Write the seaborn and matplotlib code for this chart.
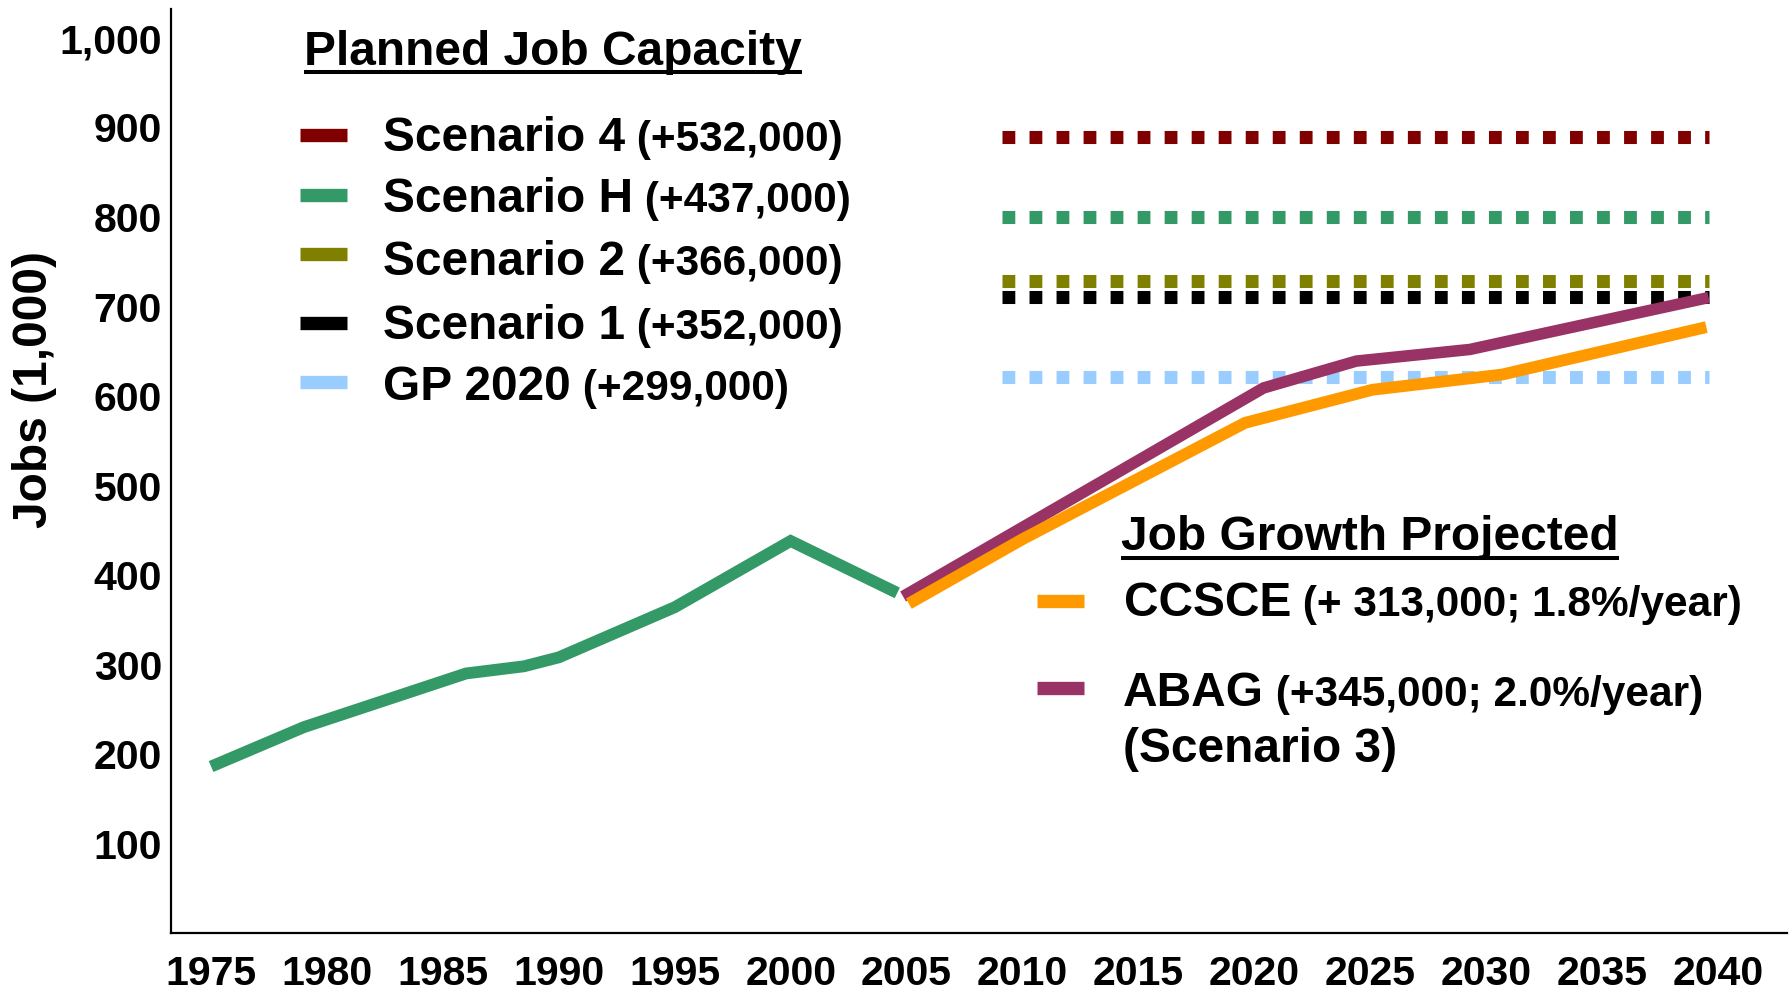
import numpy as np
import pandas as pd
import matplotlib
matplotlib.use("Agg")
import matplotlib.pyplot as plt
import seaborn as sns
from matplotlib.lines import Line2D

# ---------------- data ----------------
hist_years = [1975, 1979, 1986, 1988.5, 1990, 1995, 2000, 2004.6]
hist_jobs = [186, 230, 290, 298, 308, 364, 438, 380]

abag_years = [2004.85, 2020.4, 2024.4, 2029.3, 2039.6]
abag_jobs = [376, 609, 639, 652, 710]

ccsce_years = [2005.1, 2010, 2019.6, 2025.1, 2030.7, 2039.5]
ccsce_jobs = [368, 440, 570, 607, 624, 677]

scenario_names = ["Scenario 4", "Scenario H", "Scenario 2", "Scenario 1", "GP 2020"]
scenario_added = ["(+532,000)", "(+437,000)", "(+366,000)", "(+352,000)", "(+299,000)"]
scenario_capacity = [889, 800, 728, 711, 621]
scenario_colors = ["#800000", "#339966", "#808000", "#000000", "#99CCFF"]
capacity_span = [2009.1, 2039.6]

projection_names = ["CCSCE", "ABAG"]
projection_notes = ["(+ 313,000; 1.8%/year)", "(+345,000; 2.0%/year)"]
projection_colors = ["#FF9900", "#993366"]

year_ticks = [1975, 1980, 1985, 1990, 1995, 2000, 2005, 2010, 2015, 2020, 2025, 2030, 2035, 2040]
job_ticks = [100, 200, 300, 400, 500, 600, 700, 800, 900, 1000]
job_tick_labels = ["100", "200", "300", "400", "500", "600", "700", "800", "900", "1,000"]

# ---------------- style ----------------
sns.set_style("white")
plt.rcParams["font.family"] = ["Liberation Sans", "DejaVu Sans"]
plt.rcParams["font.weight"] = "bold"
plt.rcParams["text.color"] = "black"
plt.rcParams["axes.labelcolor"] = "black"
plt.rcParams["xtick.color"] = "black"
plt.rcParams["ytick.color"] = "black"

W, H = 1790, 996
DPI = 100
fig = plt.figure(figsize=(W / DPI, H / DPI), dpi=DPI)
ax = fig.add_axes([171 / W, (H - 933) / H, (1787 - 171) / W, (933 - 9) / H])

BIG = 34.5
SMALL = 30.5
TICK = 29.5

# capacity dotted lines
cap_df = pd.DataFrame({
    "scenario": np.repeat(scenario_names, 2),
    "year": capacity_span * len(scenario_names),
    "jobs": np.repeat(scenario_capacity, 2),
})
for name, col in zip(scenario_names, scenario_colors):
    sub = cap_df[cap_df["scenario"] == name]
    sns.lineplot(data=sub, x="year", y="jobs", ax=ax, color=col, lw=9.4,
                 linestyle=(0, (0.98, 1.09)), dash_capstyle="butt", legend=False)

# historical line
sns.lineplot(x=hist_years, y=hist_jobs, ax=ax, color="#339966", lw=8.5,
             solid_capstyle="butt", solid_joinstyle="miter", legend=False)
# projections
sns.lineplot(x=abag_years, y=abag_jobs, ax=ax, color=projection_colors[1], lw=8.3,
             solid_capstyle="butt", solid_joinstyle="miter", legend=False)
sns.lineplot(x=ccsce_years, y=ccsce_jobs, ax=ax, color=projection_colors[0], lw=8.5,
             solid_capstyle="butt", solid_joinstyle="miter", legend=False)

ax.set_xlim(1973.27, 2042.98)
ax.set_ylim(0, (933 - 9) / 0.895)
ax.set_xticks(year_ticks)
ax.set_xticklabels([str(y) for y in year_ticks], fontsize=TICK, fontweight="bold", color="black")
ax.set_yticks(job_ticks)
ax.set_yticklabels(job_tick_labels, fontsize=TICK, fontweight="bold", color="black")
ax.tick_params(axis="both", length=0)
ax.tick_params(axis="y", pad=6.5)
ax.tick_params(axis="x", pad=16)
for s in ["top", "right"]:
    ax.spines[s].set_visible(False)
for s in ["left", "bottom"]:
    ax.spines[s].set_color("black")
    ax.spines[s].set_linewidth(1.6)
ax.set_xlabel("")
ax.set_ylabel("Jobs (1,000)", fontsize=BIG, fontweight="bold", color="black")
ax.yaxis.label.set(rotation_mode="default", va="center", ha="center")
ax.yaxis.set_label_coords((35 - 171) / 1616, (933 - 390) / 924)

# ---------------- custom legends ----------------
def fx(x):
    return x / W

def fy(y):
    return 1 - y / H

renderer = fig.canvas.get_renderer()

def two_part(x, y, big, small):
    t1 = fig.text(fx(x), fy(y), big, fontsize=BIG, fontweight="bold", va="baseline",
                  ha="left", color="black")
    bb = t1.get_window_extent(renderer=renderer)
    t2 = fig.text(bb.x1 / W, fy(y), " " + small, fontsize=SMALL, fontweight="bold",
                  va="baseline", ha="left", color="black")
    return t1, t2

def titled(x, y, s, uy):
    t = fig.text(fx(x), fy(y), s, fontsize=BIG, fontweight="bold", va="baseline",
                 ha="left", color="black")
    bb = t.get_window_extent(renderer=renderer)
    fig.add_artist(Line2D([bb.x0 / W, bb.x1 / W], [fy(uy), fy(uy)], transform=fig.transFigure,
                          color="black", lw=2.9, solid_capstyle="butt"))

def handle(x0, x1, y, col):
    fig.add_artist(Line2D([fx(x0), fx(x1)], [fy(y), fy(y)], transform=fig.transFigure,
                          color=col, lw=9.6, solid_capstyle="butt"))

titled(304, 65, "Planned Job Capacity", 72)
hy = [135, 195, 254, 323, 382]
ty = [151, 212, 275, 339, 400]
for name, add, col, h_y, t_y in zip(scenario_names, scenario_added, scenario_colors, hy, ty):
    handle(300, 347, h_y, col)
    two_part(383, t_y, name, add)

titled(1121, 550, "Job Growth Projected", 558)
handle(1037, 1084, 601, projection_colors[0])
two_part(1124, 616, projection_names[0], projection_notes[0])
handle(1037, 1084, 688, projection_colors[1])
two_part(1123, 706, projection_names[1], projection_notes[1])
fig.text(fx(1123), fy(762), "(Scenario 3)", fontsize=BIG, fontweight="bold", va="baseline",
         ha="left", color="black")

fig.savefig("out.png", dpi=DPI)
